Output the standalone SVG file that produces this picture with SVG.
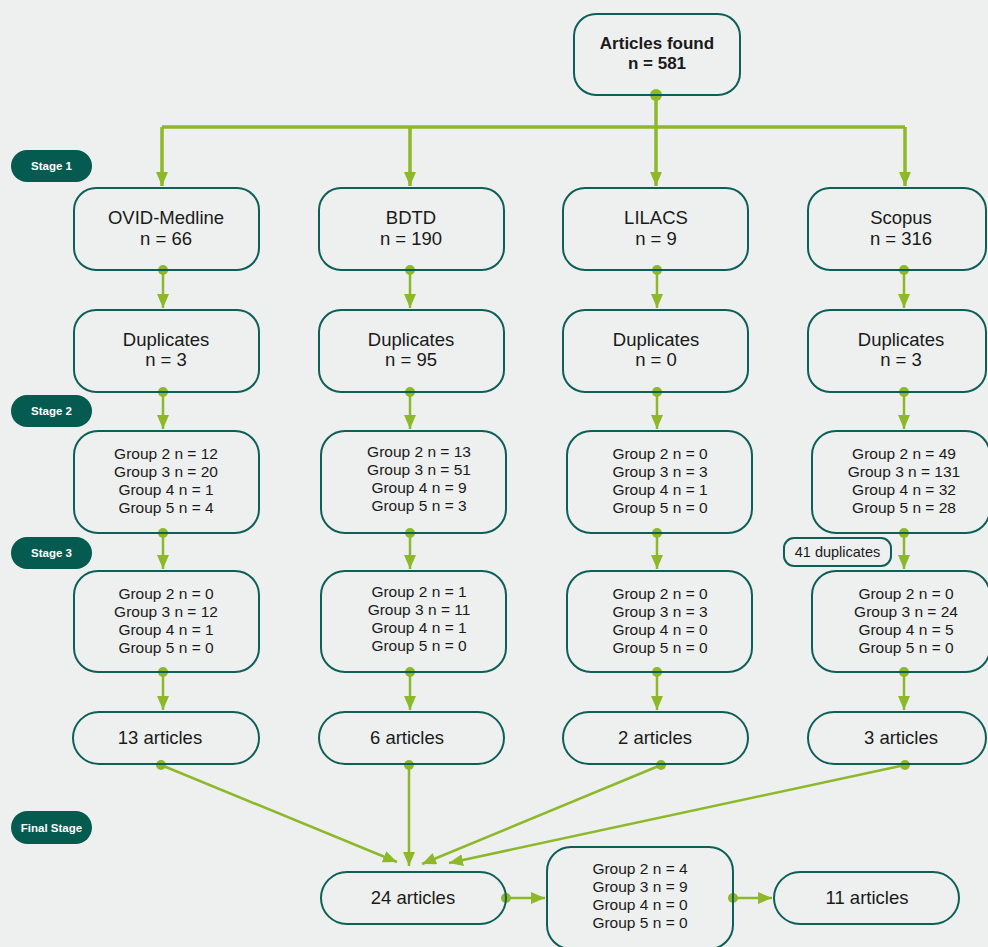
<svg xmlns="http://www.w3.org/2000/svg" width="988" height="947" viewBox="0 0 988 947">
<defs>
<marker id="ah" markerUnits="userSpaceOnUse" markerWidth="14" markerHeight="12" refX="14" refY="6" orient="auto">
<path d="M0,0 L14,6 L0,12 z" fill="#8DB829"/>
</marker>
<style>
.box{fill:none;stroke:#0D5F58;stroke-width:2}
.stage{fill:#065B50}
.st{font-family:"Liberation Sans",Arial,sans-serif;font-weight:bold;font-size:11.5px;fill:#fff;text-anchor:middle}
.t{font-family:"Liberation Sans",Arial,sans-serif;font-size:18.5px;fill:#1a1a1a;text-anchor:middle}
.g{font-family:"Liberation Sans",Arial,sans-serif;font-size:15.5px;fill:#1a1a1a;text-anchor:middle}
.d{font-family:"Liberation Sans",Arial,sans-serif;font-size:14.5px;fill:#1a1a1a;text-anchor:middle}
.b{font-family:"Liberation Sans",Arial,sans-serif;font-weight:bold;font-size:17px;fill:#1a1a1a;text-anchor:middle}
.c{fill:none;stroke:#8DB829;stroke-width:2.5;marker-end:url(#ah)}
.cm{fill:none;stroke:#8DB829;stroke-width:3.5}
.dot{fill:#8DB829}
</style>
</defs>
<rect width="988" height="947" fill="#EEF0EF"/>

<g id="connectors">
<path class="cm" d="M162,127 H905"/>
<path class="c" style="stroke-width:3.5" d="M656,95 V186"/>
<path class="c" style="stroke-width:3.5" d="M162,127 V186"/>
<path class="c" style="stroke-width:3.5" d="M410,127 V186"/>
<path class="c" style="stroke-width:3.5" d="M905,127 V186"/>
<circle class="dot" cx="656" cy="95" r="6"/>

<path class="c" d="M163,270 V308"/>
<path class="c" d="M410,270 V308"/>
<path class="c" d="M657,270 V308"/>
<path class="c" d="M904,270 V308"/>
<circle class="dot" cx="163" cy="270" r="5"/>
<circle class="dot" cx="410" cy="270" r="5"/>
<circle class="dot" cx="657" cy="270" r="5"/>
<circle class="dot" cx="904" cy="270" r="5"/>

<path class="c" d="M163,392 V429"/>
<path class="c" d="M410,392 V429"/>
<path class="c" d="M657,392 V429"/>
<path class="c" d="M904,392 V429"/>
<circle class="dot" cx="163" cy="392" r="5"/>
<circle class="dot" cx="410" cy="392" r="5"/>
<circle class="dot" cx="657" cy="392" r="5"/>
<circle class="dot" cx="904" cy="392" r="5"/>

<path class="c" d="M163,533 V569"/>
<path class="c" d="M410,533 V569"/>
<path class="c" d="M657,533 V569"/>
<path class="c" d="M904,533 V569"/>
<circle class="dot" cx="163" cy="533" r="5"/>
<circle class="dot" cx="410" cy="533" r="5"/>
<circle class="dot" cx="657" cy="533" r="5"/>
<circle class="dot" cx="904" cy="533" r="5"/>

<path class="c" d="M163,672 V710"/>
<path class="c" d="M410,672 V710"/>
<path class="c" d="M657,672 V710"/>
<path class="c" d="M904,672 V710"/>
<circle class="dot" cx="163" cy="672" r="5"/>
<circle class="dot" cx="410" cy="672" r="5"/>
<circle class="dot" cx="657" cy="672" r="5"/>
<circle class="dot" cx="904" cy="672" r="5"/>

<path class="c" d="M161,765 L397,862"/>
<path class="c" d="M409,765 V866"/>
<path class="c" d="M661,765 L422,864"/>
<path class="c" d="M905,765 L449,863"/>
<circle class="dot" cx="161" cy="765" r="5"/>
<circle class="dot" cx="409" cy="765" r="5"/>
<circle class="dot" cx="661" cy="765" r="5"/>
<circle class="dot" cx="905" cy="765" r="5"/>

<path class="c" d="M506,898 H545"/>
<path class="c" d="M733,898 H772"/>
<circle class="dot" cx="506" cy="898" r="5"/>
<circle class="dot" cx="733" cy="898" r="5"/>
</g>

<g id="stage1"><rect class="stage" x="11" y="150" width="81" height="32" rx="16"/><text class="st" x="51.5" y="170">Stage 1</text></g>
<g id="stage2"><rect class="stage" x="11" y="395" width="81" height="32" rx="16"/><text class="st" x="51.5" y="415">Stage 2</text></g>
<g id="stage3"><rect class="stage" x="11" y="537" width="81" height="32" rx="16"/><text class="st" x="51.5" y="557">Stage 3</text></g>
<g id="stagefinal"><rect class="stage" x="11" y="811" width="81" height="33" rx="16.5"/><text class="st" x="51.5" y="831.5">Final Stage</text></g>

<g id="found"><rect class="box" x="574" y="14" width="166" height="81" rx="22"/><text class="b" x="657" y="49">Articles found</text><text class="b" x="657" y="69">n = 581</text></g>

<g id="ovid"><rect class="box" x="74" y="188" width="185" height="82" rx="22"/><text class="t" x="166" y="224">OVID-Medline</text><text class="t" x="166" y="245">n = 66</text></g>
<g id="bdtd"><rect class="box" x="319" y="188" width="185" height="82" rx="22"/><text class="t" x="411" y="224">BDTD</text><text class="t" x="411" y="245">n = 190</text></g>
<g id="lilacs"><rect class="box" x="563" y="188" width="185" height="82" rx="22"/><text class="t" x="656" y="224">LILACS</text><text class="t" x="656" y="245">n = 9</text></g>
<g id="scopus"><rect class="box" x="808" y="188" width="178" height="82" rx="22"/><text class="t" x="901" y="224">Scopus</text><text class="t" x="901" y="245">n = 316</text></g>

<g id="dup1"><rect class="box" x="74" y="310" width="185" height="82" rx="22"/><text class="t" x="166" y="346">Duplicates</text><text class="t" x="166" y="366">n = 3</text></g>
<g id="dup2"><rect class="box" x="319" y="310" width="185" height="82" rx="22"/><text class="t" x="411" y="346">Duplicates</text><text class="t" x="411" y="366">n = 95</text></g>
<g id="dup3"><rect class="box" x="563" y="310" width="185" height="82" rx="22"/><text class="t" x="656" y="346">Duplicates</text><text class="t" x="656" y="366">n = 0</text></g>
<g id="dup4"><rect class="box" x="808" y="310" width="178" height="82" rx="22"/><text class="t" x="901" y="346">Duplicates</text><text class="t" x="901" y="366">n = 3</text></g>

<g id="s2c1"><rect class="box" x="74" y="431" width="185" height="102" rx="24"/>
<text class="g" x="166" y="459">Group 2 n = 12</text><text class="g" x="166" y="477">Group 3 n = 20</text><text class="g" x="166" y="495">Group 4 n = 1</text><text class="g" x="166" y="513">Group 5 n = 4</text></g>
<g id="s2c2"><rect class="box" x="321" y="431" width="185" height="102" rx="24"/>
<text class="g" x="419" y="457">Group 2 n = 13</text><text class="g" x="419" y="475">Group 3 n = 51</text><text class="g" x="419" y="493">Group 4 n = 9</text><text class="g" x="419" y="511">Group 5 n = 3</text></g>
<g id="s2c3"><rect class="box" x="567" y="431" width="185" height="102" rx="24"/>
<text class="g" x="660" y="459">Group 2 n = 0</text><text class="g" x="660" y="477">Group 3 n = 3</text><text class="g" x="660" y="495">Group 4 n = 1</text><text class="g" x="660" y="513">Group 5 n = 0</text></g>
<g id="s2c4"><rect class="box" x="812" y="431" width="178" height="102" rx="24"/>
<text class="g" x="904" y="459">Group 2 n = 49</text><text class="g" x="904" y="477">Group 3 n = 131</text><text class="g" x="904" y="495">Group 4 n = 32</text><text class="g" x="904" y="513">Group 5 n = 28</text></g>

<g id="dup41"><rect class="box" x="784" y="538" width="107" height="28" rx="10"/><text class="d" x="837.5" y="557">41 duplicates</text></g>

<g id="s3c1"><rect class="box" x="74" y="571" width="185" height="101" rx="24"/>
<text class="g" x="166" y="599">Group 2 n = 0</text><text class="g" x="166" y="617">Group 3 n = 12</text><text class="g" x="166" y="635">Group 4 n = 1</text><text class="g" x="166" y="653">Group 5 n = 0</text></g>
<g id="s3c2"><rect class="box" x="321" y="571" width="185" height="101" rx="24"/>
<text class="g" x="419" y="597">Group 2 n = 1</text><text class="g" x="419" y="615">Group 3 n = 11</text><text class="g" x="419" y="633">Group 4 n = 1</text><text class="g" x="419" y="651">Group 5 n = 0</text></g>
<g id="s3c3"><rect class="box" x="567" y="571" width="185" height="101" rx="24"/>
<text class="g" x="660" y="599">Group 2 n = 0</text><text class="g" x="660" y="617">Group 3 n = 3</text><text class="g" x="660" y="635">Group 4 n = 0</text><text class="g" x="660" y="653">Group 5 n = 0</text></g>
<g id="s3c4"><rect class="box" x="812" y="571" width="178" height="101" rx="24"/>
<text class="g" x="906" y="599">Group 2 n = 0</text><text class="g" x="906" y="617">Group 3 n = 24</text><text class="g" x="906" y="635">Group 4 n = 5</text><text class="g" x="906" y="653">Group 5 n = 0</text></g>

<g id="a1"><rect class="box" x="73" y="712" width="186" height="52" rx="26"/><text class="t" x="160" y="744">13 articles</text></g>
<g id="a2"><rect class="box" x="319" y="712" width="185" height="52" rx="26"/><text class="t" x="407" y="744">6 articles</text></g>
<g id="a3"><rect class="box" x="563" y="712" width="185" height="52" rx="26"/><text class="t" x="655" y="744">2 articles</text></g>
<g id="a4"><rect class="box" x="808" y="712" width="178" height="52" rx="26"/><text class="t" x="901" y="744">3 articles</text></g>

<g id="total"><rect class="box" x="321" y="872" width="185" height="52" rx="26"/><text class="t" x="413" y="904">24 articles</text></g>
<g id="finalgroups"><rect class="box" x="547" y="847" width="186" height="102" rx="24"/>
<text class="g" x="640" y="874">Group 2 n = 4</text><text class="g" x="640" y="892">Group 3 n = 9</text><text class="g" x="640" y="910">Group 4 n = 0</text><text class="g" x="640" y="928">Group 5 n = 0</text></g>
<g id="final"><rect class="box" x="774" y="872" width="185" height="52" rx="26"/><text class="t" x="867" y="904">11 articles</text></g>
</svg>
